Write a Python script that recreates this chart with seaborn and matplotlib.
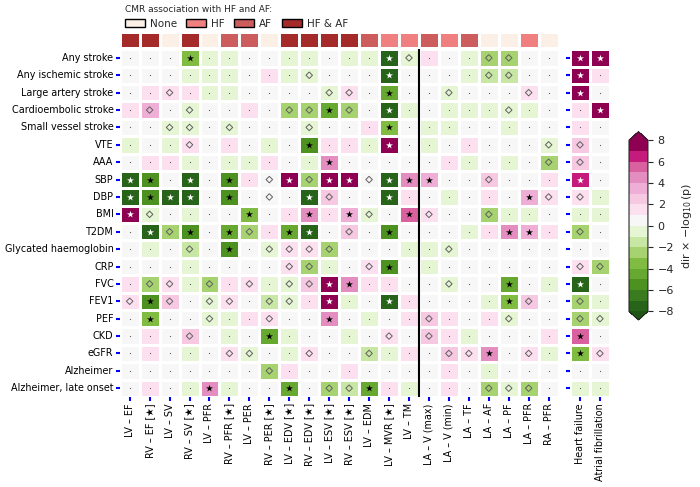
import matplotlib
matplotlib.use("Agg")
import matplotlib.pyplot as plt
from matplotlib.colors import ListedColormap
from matplotlib.patches import Patch
from matplotlib.cm import ScalarMappable
from matplotlib.colors import Normalize
import seaborn as sns
import numpy as np
import pandas as pd

traits = ["Any stroke", "Any ischemic stroke", "Large artery stroke", "Cardioembolic stroke",
          "Small vessel stroke", "VTE", "AAA", "SBP", "DBP", "BMI", "T2DM",
          "Glycated haemoglobin", "CRP", "FVC", "FEV1", "PEF", "CKD", "eGFR",
          "Alzheimer", "Alzheimer, late onset"]

cmr_traits = ["LV – EF", "RV – EF [★]", "LV – SV", "RV – SV [★]", "LV – PFR", "RV – PFR [★]",
              "LV – PER", "RV – PER [★]", "LV – EDV [★]", "RV – EDV [★]", "LV – ESV [★]",
              "RV – ESV [★]", "LV – EDM", "LV – MVR [★]", "LV – TM", "LA – V (max)",
              "LA – V (min)", "LA – TF", "LA – AF", "LA – PF", "LA – PFR", "RA – PFR"]

outcomes = ["Heart failure", "Atrial fibrillation"]

# CMR association with HF / AF: 0 None, 1 HF, 2 AF, 3 HF & AF
cmr_assoc = [3, 3, 0, 3, 0, 2, 2, 0, 3, 3, 3, 3, 2, 1, 1, 2, 1, 2, 0, 0, 1, 0]
assoc_names = ["None", "HF", "AF", "HF & AF"]

# signed -log10(p)
W, P1, P2, P3, P4, P5, P6, P7 = 0.5, 1.5, 2.5, 3.5, 4.5, 5.5, 6.5, 7.5
G0, G1, G2, G3, G4, G5, G6, G7 = -0.5, -1.5, -2.5, -3.5, -4.5, -5.5, -6.5, -7.5

cmr_values = [
    [W, W, W, G3, G0, G0, W, W, G0, G0, W, G0, G0, G7, G0, P1, W, G0, G2, G2, W, W],
    [W, W, W, G0, G0, G0, W, P1, G0, G0, W, W, W, G7, W, W, W, G0, G1, G1, W, W],
    [W, P1, P1, P1, G0, G0, W, W, W, W, G0, P1, W, G4, W, W, G0, W, W, W, P1, W],
    [P1, P3, W, G0, W, W, P1, W, G2, G2, G4, G2, W, G7, G0, W, G0, G0, G0, G0, G0, W],
    [W, W, G0, G0, W, G0, W, W, W, G0, W, W, P1, G3, W, G0, G0, W, W, G0, W, W],
    [G0, W, G0, P1, W, P1, W, G0, W, G5, P1, P1, G0, P7, W, G0, W, P1, W, W, W, G0],
    [W, P1, P1, G0, W, G0, G0, P1, W, G0, P4, W, W, W, W, W, P1, G0, W, G0, W, G2],
    [G7, G5, W, G7, W, G5, P1, W, P7, G2, P7, P7, W, G7, P4, P3, W, W, P2, W, W, P1],
    [G7, G5, G7, G7, W, G5, W, W, W, G7, P2, W, W, G7, P1, W, G0, W, P1, W, P3, P1],
    [P7, G0, W, G0, W, W, G3, W, P1, P4, P1, P3, G0, W, P5, P1, W, W, G2, G0, G0, W],
    [W, G7, G2, G5, W, G4, G2, P1, G4, G7, W, P2, W, G5, W, W, W, G0, P1, P4, P3, P1],
    [W, G0, W, G1, W, G5, W, G0, P1, P1, G2, W, W, W, G0, G0, G0, W, W, W, W, W],
    [W, W, W, G0, W, W, W, W, P1, G2, G0, W, P1, G5, W, G0, W, W, W, W, W, W],
    [P1, G2, P1, G0, G2, P1, P1, G0, G0, P2, P7, P4, P1, P1, W, W, G0, W, W, G4, W, G0],
    [P1, G5, P2, W, G0, P1, W, G1, G0, P1, P7, G0, W, G7, P1, W, W, W, G0, G3, P2, W],
    [W, G3, W, W, G0, G0, P1, P1, W, W, P4, W, G0, W, P1, P2, P1, W, P1, G0, W, W],
    [W, P1, W, P2, W, G0, W, G4, G0, W, W, G0, W, P1, W, P2, P1, G0, W, W, W, P1],
    [W, P1, W, G0, W, P1, G0, W, G0, P1, W, W, G1, G0, P1, W, P2, P1, P4, W, P1, G0],
    [W, W, W, W, W, W, W, G2, P1, W, W, P1, W, W, W, W, P1, W, G0, W, W, W],
    [W, P1, W, G0, P4, G0, W, W, G4, W, G2, G1, G4, P1, G0, W, P1, W, G2, G0, G2, W],
]

# '.' not significant, 'd' nominal, '*' significant
cmr_marks = [
    "...*.........*d...dd..",
    ".........d...*....dd..",
    "..d.......dd.*..d...d.",
    ".d.d....dd*d.*.....d..",
    "..dd.d...d...*........",
    "...d.....*...*.......d",
    "..........*..........d",
    "**.*.*.d*d**d***..d...",
    "****.*.d.*d..*......*d",
    "*d....*..*.*d.*d..d...",
    ".*d*.*d.**.d.*.....**.",
    "...d.*.dddd.....d.....",
    "........dd..d*........",
    ".dd.d.d.dd**....d..*..",
    "d*d.dd.dd.*..*.....*d.",
    ".*..d..d..*....d...d..",
    "...d...*.....d.d......",
    ".....dd..d..d...dd*.d.",
    ".......d..............",
    "....*...*.dd*.....ddd.",
]

outcome_values = [
    [P7, P7], [P7, P1], [P7, W], [P1, P7], [P1, W], [P2, W], [P2, W], [P6, W],
    [P1, G0], [G0, G0], [G2, W], [W, W], [P1, G2], [G7, W], [G2, G0], [G2, G0],
    [P5, W], [G3, P1], [W, W], [G0, G0],
]
outcome_marks = ["**", "*.", "*.", ".*", "..", "d.", "d.", "*.", "d.", "..",
                 "d.", "..", "dd", "*.", "d.", "dd", "*.", "*d", "..", ".."]

bin_colors = ["#276419", "#3a7b1f", "#4d9221", "#67a831", "#7fbc41", "#a6d26f",
              "#c8e6a4", "#e6f5d4", "#f7f7f7", "#fde0ef", "#f6c8e2", "#efaed5",
              "#e48dc0", "#d9619f", "#c51b7d", "#8e0152"]
cmap = ListedColormap(bin_colors)
cmap.set_under("#1f5514")
cmap.set_over("#8e0152")

assoc_colors = ["#fbefe6", "#f08080", "#cd5c5c", "#a52a2a"]

sns.set_style("white")
plt.rcParams["font.family"] = ["DejaVu Sans"]

fig = plt.figure(figsize=(7, 4.87), dpi=100)
ax_top = fig.add_axes([0.171, 0.901, 0.627, 0.033])
ax = fig.add_axes([0.171, 0.185, 0.627, 0.714])
ax_out = fig.add_axes([0.8143, 0.185, 0.057, 0.714])
cax = fig.add_axes([0.8986, 0.343, 0.027, 0.3866])

df_main = pd.DataFrame(cmr_values, index=traits, columns=cmr_traits)
df_out = pd.DataFrame(outcome_values, index=traits, columns=outcomes)

sns.heatmap(pd.DataFrame([cmr_assoc], columns=cmr_traits), ax=ax_top,
            cmap=ListedColormap(assoc_colors), vmin=-0.5, vmax=3.5,
            cbar=False, linewidths=1, linecolor="white")
ax_top.set_xticks([])
ax_top.set_yticks([])
ax_top.set_xlabel("")

for axis, data, marks in [(ax, df_main, cmr_marks), (ax_out, df_out, outcome_marks)]:
    sns.heatmap(data, ax=axis, cmap=cmap, vmin=-8, vmax=8, cbar=False,
                linewidths=1, linecolor="white", xticklabels=True, yticklabels=True)
    vals = data.values
    for i, row in enumerate(marks):
        for j, m in enumerate(row):
            x, y = j + 0.5, i + 0.5
            if m == ".":
                axis.scatter(x, y, marker=".", s=3, color="#555555", linewidths=0)
            elif m == "d":
                axis.scatter(x, y, marker="D", s=11, facecolors="none",
                             edgecolors="#606060", linewidths=0.7)
            else:
                c = "white" if abs(vals[i, j]) > 6 else "black"
                axis.scatter(x, y, marker="*", s=28, color=c, linewidths=0)
    axis.tick_params(axis="both", colors="blue", length=3, width=1.5, pad=1.5,
                     labelsize=6.9, labelcolor="black", left=True, bottom=True)
    axis.set_xticklabels(axis.get_xticklabels(), rotation=90)

ax.set_yticklabels(traits, rotation=0)
ax_out.set_yticklabels([])
ax.axvline(15, color="black", lw=1.5)

norm = Normalize(vmin=-8, vmax=8)
cb = fig.colorbar(ScalarMappable(norm=norm, cmap=cmap), cax=cax, extend="both",
                  ticks=range(-8, 9, 2))
cb.ax.tick_params(labelsize=8)
cb.set_label("dir × $-\\log_{10}$(p)", fontsize=8)

handles = [Patch(facecolor=c, edgecolor="black", label=n) for c, n in zip(assoc_colors, assoc_names)]
leg = fig.legend(handles=handles, loc="upper left", bbox_to_anchor=(0.165, 1.01), ncol=4,
                 frameon=False, fontsize=7.5, title="CMR association with HF and AF:",
                 title_fontsize=6.5, handlelength=1.9, handleheight=0.7,
                 handletextpad=0.5, columnspacing=0.9, alignment="left")

fig.savefig("out.png", dpi=100)
